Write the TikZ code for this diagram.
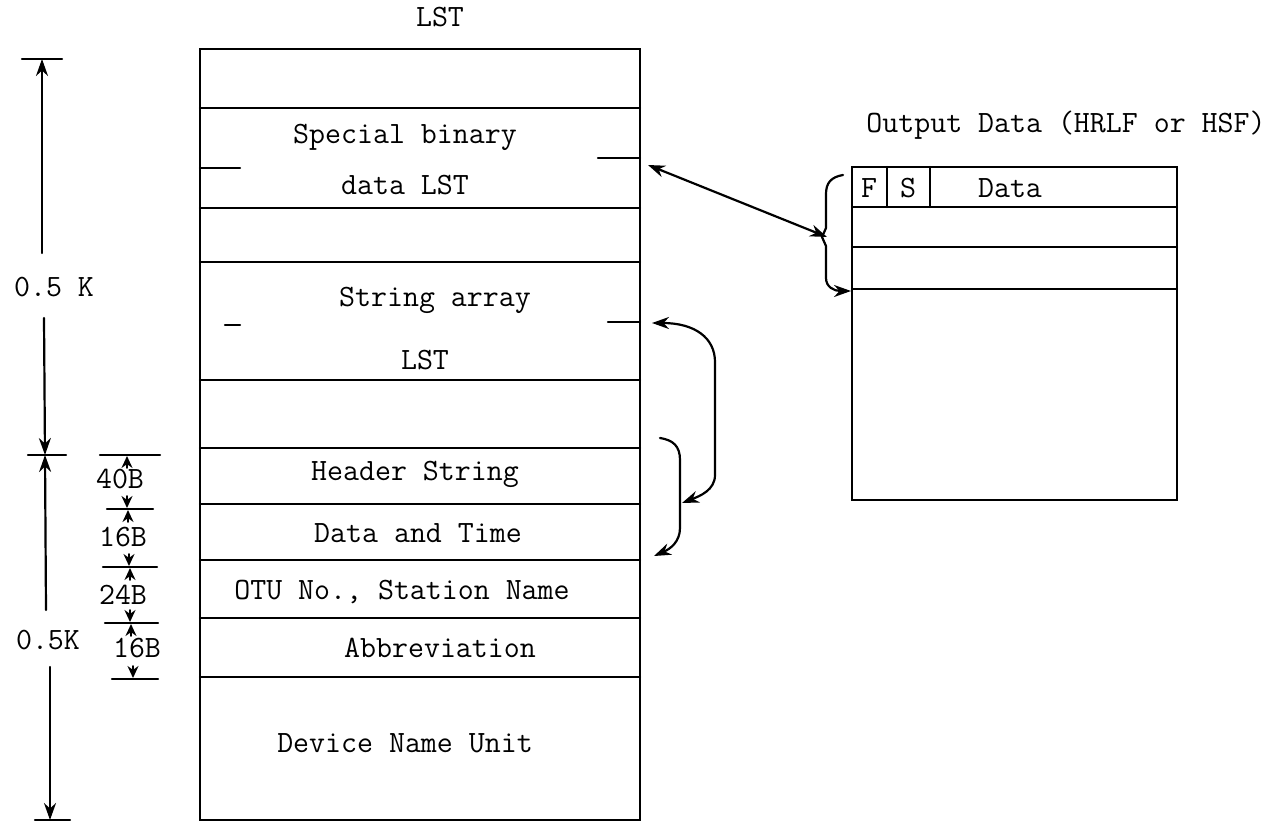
\documentclass[tikz,border=0pt]{standalone}
\usepackage{fontspec}
\usetikzlibrary{arrows.meta}
\begin{document}
\begin{tikzpicture}[x=1pt,y=-1pt,line width=2.2pt,line cap=round,
  txt/.style={font=\fontsize{31}{34}\selectfont\ttfamily,inner sep=0pt},
  arr/.style={-{Stealth[length=17pt,width=12pt]}},
  darr/.style={{Stealth[length=17pt,width=12pt]}-{Stealth[length=17pt,width=12pt]}},
  sarr/.style={-{Stealth[length=12pt,width=11pt]},line width=1.8pt}]
\useasboundingbox (0,0) rectangle (1283,822);

% ---- LST memory map ----
\node[txt] (lst) at (440,17) {LST};
\draw (200,49) rectangle (640,820);
\foreach \y in {108,208,262,380,448,504,560,618,677}
  \draw (200,\y) -- (640,\y);
% pointer marks inside the LST cells
\draw (200,168) -- (240,168);
\draw (598,158) -- (640,158);
\draw (225,325) -- (240,325);
\draw (608,322) -- (640,322);

\node[txt] (sb1) at (405,137) {Special binary};
\node[txt] (sb2) at (405,185) {data LST};
\node[txt] (sa1) at (435,300) {String array};
\node[txt] (sa2) at (425,360) {LST};
\node[txt] (hs)  at (415,474) {Header String};
\node[txt] (dt)  at (418,533) {Data and Time};
\node[txt] (otu) at (402,592) {OTU No., Station Name};
\node[txt] (abb) at (440,648) {Abbreviation};
\node[txt] (dev) at (405,743) {Device Name Unit};

% ---- overall size dimensions ----
\coordinate (k0) at (42,59);
\coordinate (k1) at (45,455);
\coordinate (k2) at (50,820);
\draw (22,59) -- (62,59);
\draw (28,455) -- (66,455);
\draw (35,820) -- (70,820);
\node[txt] (halfa) at (54,287) {0.5 K};
\node[txt] (halfb) at (48,640) {0.5K};
\draw[arr] (42,253) -- (k0);
\draw[arr] (44,318) -- (k1);
\draw[arr] (46,610) -- (k1);
\draw[arr] (50,667) -- (k2);

% ---- header field sizes ----
\draw (100,455) -- (160,455);
\draw (107,509) -- (153,509);
\draw (103,567) -- (157,567);
\draw (105,623) -- (158,623);
\draw (112,679) -- (158,679);
\draw[sarr] (127,468) -- (127,456);
\draw[sarr] (127,496) -- (127,508);
\draw[sarr] (128,522) -- (128,510);
\draw[sarr] (129,554) -- (129,566);
\draw[sarr] (130,580) -- (130,568);
\draw[sarr] (130,610) -- (130,622);
\draw[sarr] (131,636) -- (131,624);
\draw[sarr] (133,666) -- (133,678);
\node[txt] (b40) at (120,479) {40B};
\node[txt] (b16a) at (123,537) {16B};
\node[txt] (b24) at (123,595) {24B};
\node[txt] (b16b) at (137,648) {16B};

% ---- output data record ----
\node[txt] (out) at (1066,125) {Output Data (HRLF or HSF)};
\draw (852,167) rectangle (1177,500);
\foreach \y in {207,247,289}
  \draw (852,\y) -- (1177,\y);
\draw (887,167) -- (887,207);
\draw (930,167) -- (930,207);
\node[txt] (f) at (869,188) {F};
\node[txt] (s) at (908,188) {S};
\node[txt] (d) at (1010,188) {Data};

% ---- connectors ----
\coordinate (sbptr) at (648,165);
\coordinate (brace) at (827,237);
\draw[darr] (sbptr) -- (brace);
\draw[arr] (843,175) .. controls (831,177) and (826,183) .. (826,194)
  -- (826,228) -- (822,237) -- (826,246) -- (826,278)
  .. controls (826,287) and (834,291) .. (851,291);

\coordinate (saptr) at (652,323);
\coordinate (dtptr) at (682,503);
\draw[darr] (saptr) .. controls (695,323) and (715,338) .. (715,362)
  -- (715,475) .. controls (715,490) and (700,496) .. (dtptr);

\coordinate (hsptr) at (660,438);
\coordinate (dtend) at (654,556);
\draw[arr] (hsptr) .. controls (673,440) and (680,446) .. (680,460)
  -- (680,528) .. controls (680,542) and (670,549) .. (dtend);
\end{tikzpicture}
\end{document}
